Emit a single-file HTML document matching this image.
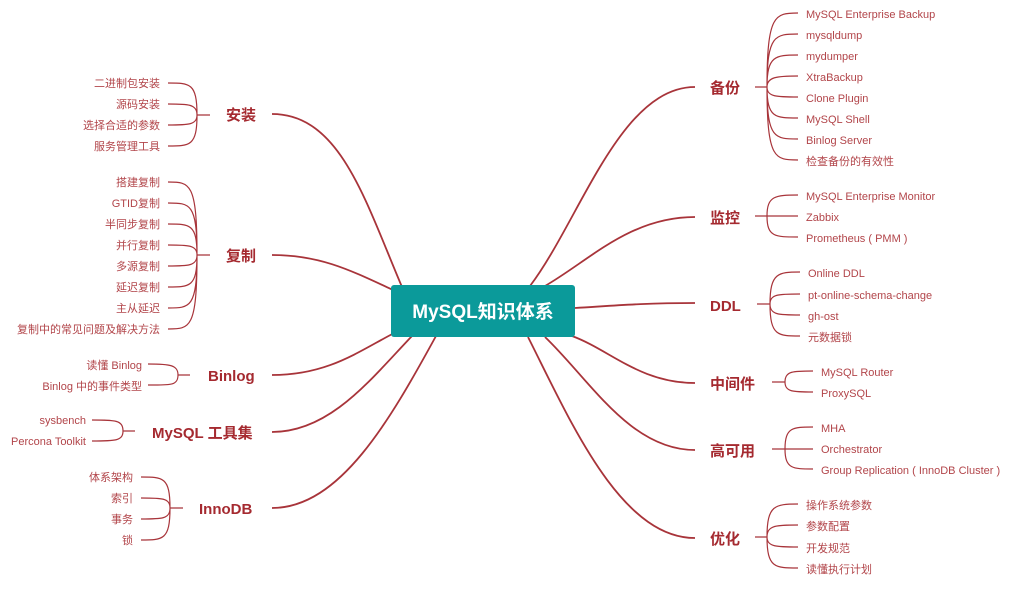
<!DOCTYPE html>
<html><head><meta charset="utf-8"><style>
html,body{margin:0;padding:0;background:#fff;}
svg{display:block;}
.m{font-family:"Liberation Sans","Noto Sans CJK SC",sans-serif;font-size:15px;font-weight:bold;fill:#a52a30;}
.l{font-family:"Liberation Sans","Noto Sans CJK SC",sans-serif;font-size:11px;fill:#b2454a;}
.r{text-anchor:end;}
.b{fill:none;stroke:#a8343a;stroke-width:1.8;}
.s{fill:none;stroke:#a8343a;stroke-width:1.2;}
</style></head><body>
<svg width="1017" height="594" viewBox="0 0 1017 594" xmlns="http://www.w3.org/2000/svg">
<!-- main branches -->
<path class="b" d="M272,114 C340,114 365,200 402,287"/>
<path class="b" d="M272,255 C320,255 350,270 393,290"/>
<path class="b" d="M272,375 C330,375 360,350 400,330"/>
<path class="b" d="M272,432 C330,432 370,380 412,336"/>
<path class="b" d="M272,508 C340,508 390,420 436,336"/>
<path class="b" d="M695,87 C620,87 580,220 530,286"/>
<path class="b" d="M695,217 C630,217 590,260 545,286"/>
<path class="b" d="M695,303 C640,303 610,306 575,308"/>
<path class="b" d="M695,383 C640,383 610,350 572,336"/>
<path class="b" d="M695,450 C630,450 590,380 545,337"/>
<path class="b" d="M695,538 C620,538 570,420 528,337"/>
<!-- center -->
<rect x="391" y="285" width="184" height="52" rx="3" fill="#0b9a9a"/>
<text x="483" y="318" text-anchor="middle" font-family="Liberation Sans,'Noto Sans CJK SC',sans-serif" font-size="19" font-weight="bold" fill="#fff">MySQL知识体系</text>
<!-- left labels -->
<text class="m" x="226" y="120">安装</text>
<text class="m" x="226" y="261">复制</text>
<text class="m" x="208" y="381">Binlog</text>
<text class="m" x="152" y="438">MySQL 工具集</text>
<text class="m" x="199" y="514">InnoDB</text>
<!-- right labels -->
<text class="m" x="710" y="93">备份</text>
<text class="m" x="710" y="223">监控</text>
<text class="m" x="710" y="311">DDL</text>
<text class="m" x="710" y="389">中间件</text>
<text class="m" x="710" y="456">高可用</text>
<text class="m" x="710" y="544">优化</text>
<!-- left brackets -->
<g class="s">
<path d="M210,115 H197 M197,115 C197,83 190,83 168,83 M197,115 C197,104 188,104 168,104 M197,115 C197,125 188,125 168,125 M197,115 C197,146 190,146 168,146"/>
<path d="M210,255 H197 M197,255 C197,182 190,182 168,182 M197,255 C197,203 190,203 168,203 M197,255 C197,224 190,224 168,224 M197,255 C197,245 188,245 168,245 M197,255 C197,266 188,266 168,266 M197,255 C197,287 190,287 168,287 M197,255 C197,308 190,308 168,308 M197,255 C197,329 190,329 168,329"/>
<path d="M190,375 H178 M178,375 C178,365 170,364 148,364 M178,375 C178,386 170,385 148,385"/>
<path d="M135,431 H123 M123,431 C123,420 115,420 92,420 M123,431 C123,441 115,441 92,441"/>
<path d="M183,508 H170 M170,508 C170,477 163,477 141,477 M170,508 C170,498 162,498 141,498 M170,508 C170,519 162,519 141,519 M170,508 C170,540 163,540 141,540"/>
</g>
<!-- right brackets -->
<g class="s">
<path d="M755,87 H767 M767,87 C767,14 775,13 798,13 M767,87 C767,35 775,34 798,34 M767,87 C767,56 775,55 798,55 M767,87 C767,77 777,76 798,76 M767,87 C767,97 777,97 798,97 M767,87 C767,118 775,118 798,118 M767,87 C767,139 775,139 798,139 M767,87 C767,160 775,160 798,160"/>
<path d="M755,216 H798 M767,216 C767,196 775,195 798,195 M767,216 C767,237 775,237 798,237"/>
<path d="M757,304 H770 M770,304 C770,273 778,272 800,272 M770,304 C770,294 779,294 800,294 M770,304 C770,315 779,315 800,315 M770,304 C770,336 778,336 800,336"/>
<path d="M772,382 H785 M785,382 C785,371 793,371 813,371 M785,382 C785,392 793,392 813,392"/>
<path d="M772,449 H813 M785,449 C785,427 793,427 813,427 M785,449 C785,469 793,469 813,469"/>
<path d="M755,537 H767 M767,537 C767,505 775,504 798,504 M767,537 C767,525 777,525 798,525 M767,537 C767,547 777,547 798,547 M767,537 C767,568 775,568 798,568"/>
</g>
<!-- left leaves -->
<g class="l r">
<text x="160" y="87">二进制包安装</text>
<text x="160" y="108">源码安装</text>
<text x="160" y="129">选择合适的参数</text>
<text x="160" y="150">服务管理工具</text>
<text x="160" y="186">搭建复制</text>
<text x="160" y="207">GTID复制</text>
<text x="160" y="228">半同步复制</text>
<text x="160" y="249">并行复制</text>
<text x="160" y="270">多源复制</text>
<text x="160" y="291">延迟复制</text>
<text x="160" y="312">主从延迟</text>
<text x="160" y="333">复制中的常见问题及解决方法</text>
<text x="142" y="369">读懂 Binlog</text>
<text x="142" y="390">Binlog 中的事件类型</text>
<text x="86" y="424">sysbench</text>
<text x="86" y="445">Percona Toolkit</text>
<text x="133" y="481">体系架构</text>
<text x="133" y="502">索引</text>
<text x="133" y="523">事务</text>
<text x="133" y="544">锁</text>
</g>
<!-- right leaves -->
<g class="l">
<text x="806" y="18">MySQL Enterprise Backup</text>
<text x="806" y="39">mysqldump</text>
<text x="806" y="60">mydumper</text>
<text x="806" y="81">XtraBackup</text>
<text x="806" y="102">Clone Plugin</text>
<text x="806" y="123">MySQL Shell</text>
<text x="806" y="144">Binlog Server</text>
<text x="806" y="165">检查备份的有效性</text>
<text x="806" y="200">MySQL Enterprise Monitor</text>
<text x="806" y="221">Zabbix</text>
<text x="806" y="242">Prometheus ( PMM )</text>
<text x="808" y="277">Online DDL</text>
<text x="808" y="299">pt-online-schema-change</text>
<text x="808" y="320">gh-ost</text>
<text x="808" y="341">元数据锁</text>
<text x="821" y="376">MySQL Router</text>
<text x="821" y="397">ProxySQL</text>
<text x="821" y="432">MHA</text>
<text x="821" y="453">Orchestrator</text>
<text x="821" y="474">Group Replication ( InnoDB Cluster )</text>
<text x="806" y="509">操作系统参数</text>
<text x="806" y="530">参数配置</text>
<text x="806" y="552">开发规范</text>
<text x="806" y="573">读懂执行计划</text>
</g>
</svg>
</body></html>
